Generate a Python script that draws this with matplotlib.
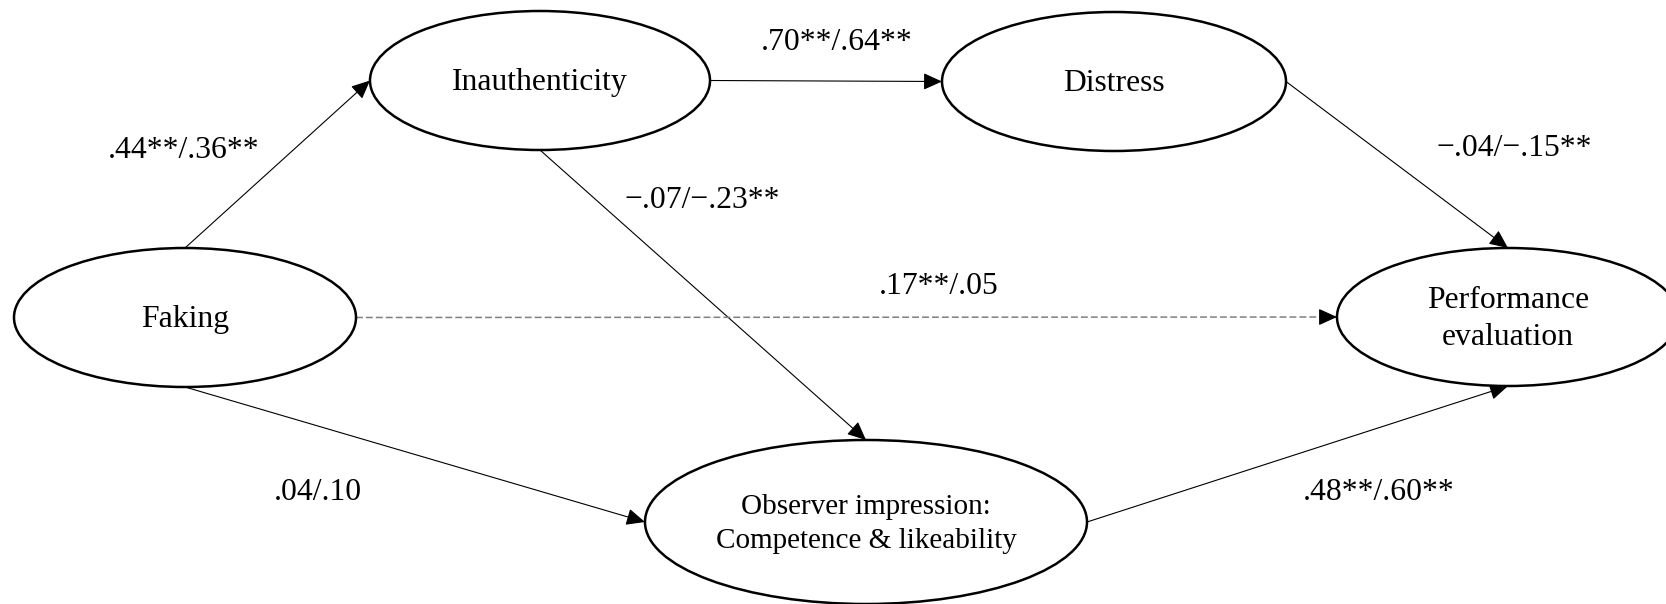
import matplotlib
matplotlib.use("Agg")
import matplotlib.pyplot as plt
from matplotlib.patches import Ellipse

# ============ Data ============
nodes = ["Faking", "Inauthenticity", "Distress",
         "Observer impression:\nCompetence & likeability",
         "Performance\nevaluation"]

paths = [
    ("Faking", "Inauthenticity"),
    ("Inauthenticity", "Distress"),
    ("Inauthenticity", "Observer impression:\nCompetence & likeability"),
    ("Distress", "Performance\nevaluation"),
    ("Faking", "Performance\nevaluation"),
    ("Faking", "Observer impression:\nCompetence & likeability"),
    ("Observer impression:\nCompetence & likeability", "Performance\nevaluation"),
]
coefs = [".44**/.36**", ".70**/.64**", "\u2212.07/\u2212.23**", "\u2212.04/\u2212.15**",
         ".17**/.05", ".04/.10", ".48**/.60**"]
significant = [True, True, True, True, False, True, True]

# ============ Layout (pixels, y down) ============
W, H = 1666, 604
centers = {
    "Faking": (185, 317.5),
    "Inauthenticity": (540, 80.5),
    "Distress": (1114, 81.5),
    "Observer impression:\nCompetence & likeability": (866, 522),
    "Performance\nevaluation": (1508, 317),
}
radii = {
    "Faking": (171, 69.5),
    "Inauthenticity": (170, 69.5),
    "Distress": (172, 69.5),
    "Observer impression:\nCompetence & likeability": (221, 82),
    "Performance\nevaluation": (171, 69),
}
node_fs = {"Observer impression:\nCompetence & likeability": 21}
anchors = [("top", "left"), ("right", "left"), ("bottom", "top"), ("right", "top"),
           ("right", "left"), ("bottom", "left"), ("right", "bottom")]
label_pos = [(184, 150), (837, 42), (702, 201), (1514, 149),
             (939, 287), (318, 492), (1379, 492)]


def anchor(name, side):
    cx, cy = centers[name]
    rx, ry = radii[name]
    return {"top": (cx, cy - ry), "bottom": (cx, cy + ry),
            "left": (cx - rx, cy), "right": (cx + rx, cy)}[side]


plt.rcParams["font.family"] = ["Liberation Serif", "DejaVu Serif"]
FS = 22.8
HEAD = "-|>,head_length=1.15,head_width=0.52"

fig = plt.figure(figsize=(W / 100, H / 100), dpi=100)
ax = fig.add_axes([0, 0, 1, 1])
ax.set_xlim(0, W)
ax.set_ylim(H, 0)
ax.axis("off")

for name in nodes:
    cx, cy = centers[name]
    rx, ry = radii[name]
    ax.add_patch(Ellipse((cx, cy), 2 * rx, 2 * ry, facecolor="white",
                         edgecolor="black", lw=1.8, zorder=2))
    ax.text(cx, cy + 2, name, ha="center", va="center",
            fontsize=node_fs.get(name, FS), linespacing=1.37, zorder=3)

for (src, dst), (sa, da), sig in zip(paths, anchors, significant):
    p0 = anchor(src, sa)
    p1 = anchor(dst, da)
    if sig:
        ax.annotate("", xy=p1, xytext=p0, zorder=1,
                    arrowprops=dict(arrowstyle=HEAD, mutation_scale=10, lw=0.8,
                                    color="black", shrinkA=0, shrinkB=0))
    else:
        # gray dashed shaft, solid black head
        dx, dy = p1[0] - p0[0], p1[1] - p0[1]
        n = (dx ** 2 + dy ** 2) ** 0.5
        pm = (p1[0] - dx / n * 14, p1[1] - dy / n * 14)
        ax.plot([p0[0], pm[0]], [p0[1], pm[1]], color="#808080", lw=1.1,
                linestyle=(0, (4.5, 2)), zorder=1)
        ax.annotate("", xy=p1, xytext=pm, zorder=1,
                    arrowprops=dict(arrowstyle=HEAD, mutation_scale=10, lw=0.8,
                                    color="black", shrinkA=0, shrinkB=0))

for txt, (x, y) in zip(coefs, label_pos):
    ax.text(x, y, txt, ha="center", va="center", fontsize=FS)

fig.savefig("out.png", dpi=100)
